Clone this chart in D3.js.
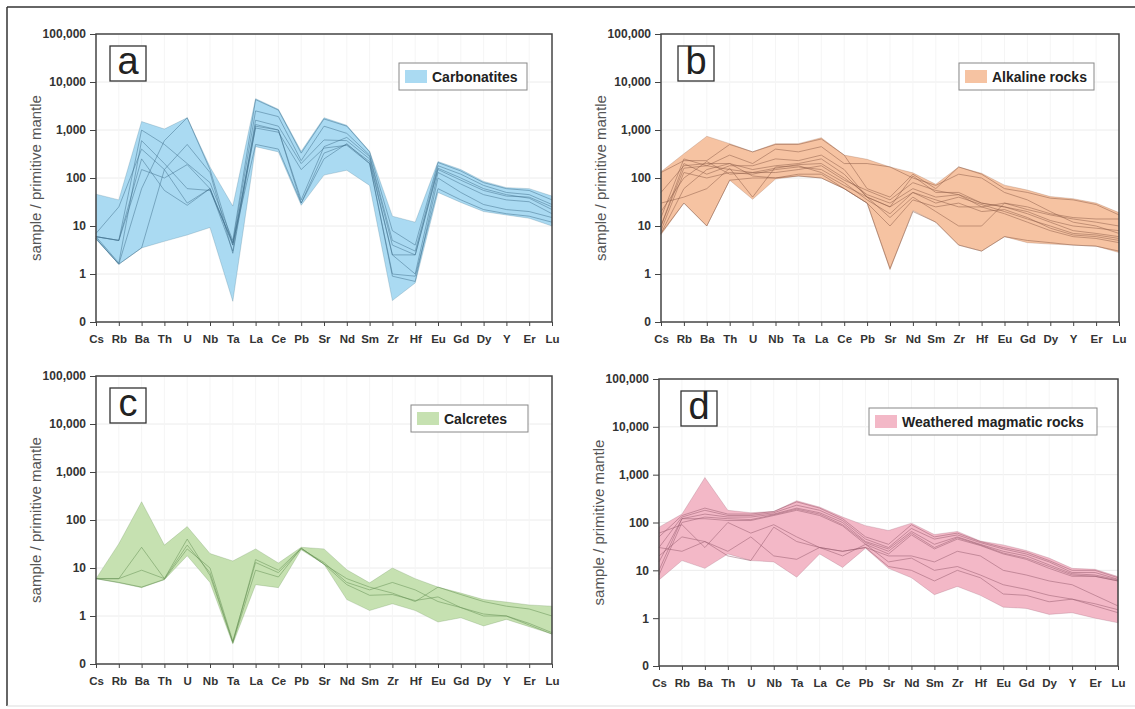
<!DOCTYPE html>
<html><head><meta charset="utf-8">
<script src="https://cdn.jsdelivr.net/npm/d3@7"></script>
<style>
body{margin:0;background:#fff;}
svg{display:block;font-family:"Liberation Sans",Arial,sans-serif;}
</style></head>
<body>
<svg id="chart" width="1135" height="709"></svg>
<script>
const elements = ["Cs","Rb","Ba","Th","U","Nb","Ta","La","Ce","Pb","Sr","Nd","Sm","Zr","Hf","Eu","Gd","Dy","Y","Er","Lu"];
const yTickValues = [0.1, 1, 10, 100, 1000, 10000, 100000];
const yTickLabels = ["0", "1", "10", "100", "1,000", "10,000", "100,000"];
const yTitle = "sample / primitive mantle";

// Panel a: Carbonatites
const carbUpper = [46, 35, 1500, 1050, 1800, 170, 26, 4500, 2700, 360, 1800, 1250, 360, 16, 12, 220, 150, 85, 63, 60, 42];
const carbLower = [5.3, 1.6, 3.5, 4.8, 6.5, 9.3, 0.27, 450, 350, 27, 115, 145, 70, 0.28, 0.65, 50, 31, 20, 17, 14.5, 10];
const carbLines = [
  [6, 5, 1000, 500, 200, 80, 5, 4300, 2600, 330, 1700, 1200, 350, 8, 4, 210, 140, 80, 60, 55, 35],
  [6, 1.7, 600, 200, 60, 55, 4.5, 2500, 1900, 230, 1200, 850, 300, 5, 3, 180, 120, 70, 50, 45, 28],
  [7, 25, 400, 150, 30, 60, 3, 1600, 1200, 200, 620, 600, 250, 2.5, 2.5, 150, 90, 55, 42, 40, 25],
  [5.5, 1.6, 60, 600, 1800, 150, 4, 1300, 1000, 35, 450, 700, 280, 4, 2.5, 160, 100, 60, 45, 38, 22],
  [5.5, 1.6, 3.5, 150, 500, 130, 2.7, 1200, 1000, 30, 330, 500, 220, 2.5, 1, 130, 75, 45, 35, 32, 18],
  [6, 5, 150, 100, 190, 60, 4.4, 500, 400, 30, 250, 520, 200, 0.9, 0.7, 100, 50, 28, 22, 20, 15],
  [6, 5, 250, 55, 27, 60, 4, 1100, 900, 150, 420, 480, 200, 1, 0.9, 60, 35, 22, 18, 16, 12]
];

// Panel b: Alkaline rocks
const alkUpper = [135, 320, 740, 520, 350, 520, 520, 690, 300, 245, 170, 128, 74, 170, 125, 71, 56, 41, 37, 30, 19];
const alkLower = [6.6, 30, 10, 90, 36, 95, 110, 100, 60, 30, 1.23, 21, 12, 4, 3, 6, 4.5, 4.2, 4, 3.8, 2.8];
const alkLines = [
  [130, 230, 230, 500, 350, 500, 500, 650, 300, 60, 40, 120, 60, 170, 120, 60, 50, 38, 35, 28, 17],
  [50, 180, 200, 200, 150, 180, 200, 250, 120, 40, 25, 110, 50, 50, 30, 25, 20, 13, 10, 9, 8],
  [10, 160, 180, 150, 130, 160, 190, 200, 100, 45, 30, 60, 40, 45, 30, 25, 18, 12, 8, 7, 6],
  [8, 130, 100, 130, 120, 150, 170, 150, 80, 35, 18, 50, 30, 40, 28, 20, 14, 10, 7, 6.5, 5.5],
  [7, 60, 150, 200, 110, 100, 120, 120, 60, 30, 10, 35, 25, 30, 20, 22, 15, 9, 6.5, 6, 5],
  [20, 100, 220, 120, 130, 130, 150, 180, 90, 55, 35, 80, 55, 45, 25, 30, 25, 18, 15, 14, 14],
  [30, 40, 60, 160, 40, 170, 180, 130, 70, 40, 15, 40, 20, 10, 10, 30, 22, 17, 14, 12, 10],
  [10, 200, 120, 180, 180, 250, 230, 300, 150, 40, 25, 50, 35, 25, 25, 18, 12, 8, 6, 5.5, 4.5],
  [7, 30, 10, 90, 100, 100, 110, 100, 60, 30, 1.3, 20, 12, 4, 3, 6, 5, 4.5, 4, 3.8, 3],
  [15, 250, 180, 300, 200, 400, 350, 450, 200, 200, 170, 100, 70, 120, 100, 50, 35, 20, 12, 10, 7]
];

// Panel c: Calcretes
const calcUpper = [6, 32, 240, 30, 73, 20, 14, 25, 12.7, 27, 25, 9.2, 4.9, 10, 6, 4, 3, 2.2, 1.95, 1.7, 1.6];
const calcLower = [6, 4.9, 3.9, 5.7, 18, 5, 0.26, 4.5, 3.9, 24, 12, 2.2, 1.3, 1.8, 1.3, 0.75, 0.92, 0.62, 0.85, 0.6, 0.42];
const calcLines = [
  [6, 6, 9, 6, 30, 8, 0.28, 15, 9, 26, 12, 6, 4, 3, 2, 4, 2.8, 2, 1.6, 1.4, 1.0],
  [6, 6, 27, 6, 40, 7, 0.28, 9, 6.5, 26, 12, 4.5, 2.7, 2.8, 2.1, 2.5, 1.5, 1.0, 1.0, 0.65, 0.42],
  [6, 5, 4, 5.8, 25, 10, 0.3, 13, 8, 25, 13, 5, 3.5, 5, 3.5, 2, 1.5, 1.1, 1.0, 0.7, 0.45]
];

// Panel d: Weathered magmatic rocks
const weathUpper = [80, 150, 870, 180, 160, 170, 285, 210, 130, 86, 68, 97, 56, 65, 41, 34, 26, 18, 11, 10.5, 7.4];
const weathLower = [6.3, 16, 11, 22, 16, 15, 7.2, 22, 11.5, 29, 11, 7, 3.1, 4.6, 3, 1.7, 1.6, 1.2, 1.3, 1.0, 0.8];
const weathLines = [
  [50, 140, 200, 150, 150, 170, 270, 200, 120, 50, 35, 90, 50, 60, 40, 30, 24, 16, 10, 10, 7],
  [30, 130, 180, 140, 140, 160, 230, 180, 110, 45, 30, 75, 45, 55, 38, 28, 22, 15, 9, 9, 6.5],
  [15, 120, 150, 130, 130, 150, 200, 160, 100, 40, 28, 65, 35, 50, 35, 25, 20, 13, 8.5, 8, 6.3],
  [10, 120, 120, 110, 110, 140, 180, 140, 85, 35, 22, 55, 28, 45, 33, 22, 17, 11, 7.5, 7.5, 6],
  [8, 100, 130, 120, 115, 145, 190, 150, 90, 38, 25, 60, 30, 48, 34, 23, 18, 12, 8, 7.5, 6],
  [20, 50, 40, 25, 50, 20, 17, 30, 25, 30, 20, 20, 15, 25, 20, 10, 8, 6, 5, 3, 1.8],
  [30, 25, 40, 20, 16, 80, 40, 30, 25, 30, 12, 10, 6, 10, 7, 3.2, 3, 2.2, 2.5, 1.8, 1.3],
  [60, 90, 30, 100, 60, 90, 50, 30, 20, 35, 15, 18, 10, 12, 8, 5, 4, 3, 2.5, 2, 1.5]
];

const panels = [
  {letter:"a", legend:"Carbonatites", upper:carbUpper, lower:carbLower, lines:carbLines,
   x0:96, x1:552, y0:34, y1:322, fill:"#aadaf2", line:"#3f6f8a", legX:399, legW:128, boxDx:14},
  {letter:"b", legend:"Alkaline rocks", upper:alkUpper, lower:alkLower, lines:alkLines,
   x0:661, x1:1119, y0:34, y1:322, fill:"#f6c3a2", line:"#8a5a45", legX:959, legW:135, boxDx:17},
  {letter:"c", legend:"Calcretes", upper:calcUpper, lower:calcLower, lines:calcLines,
   x0:96, x1:552, y0:376, y1:664, fill:"#c6e1b1", line:"#5f8c4f", legX:411, legW:117, boxDx:14},
  {letter:"d", legend:"Weathered magmatic rocks", upper:weathUpper, lower:weathLower, lines:weathLines,
   x0:659, x1:1118, y0:379, y1:666, fill:"#f3b8c7", line:"#93586b", legX:869, legW:228, boxDx:22}
];

const svg = d3.select("#chart");

// outer frame
svg.append("line").attr("x1",7).attr("y1",7).attr("x2",1135).attr("y2",7).attr("stroke","#333").attr("stroke-width",1.5);
svg.append("line").attr("x1",7).attr("y1",7).attr("x2",7).attr("y2",706).attr("stroke","#333").attr("stroke-width",1.5);
svg.append("line").attr("x1",7).attr("y1",706).attr("x2",1135).attr("y2",706).attr("stroke","#ddd").attr("stroke-width",1);

panels.forEach(p => {
  const g = svg.append("g");
  const x = d3.scalePoint().domain(elements).range([p.x0, p.x1]);
  const y = d3.scaleLog().domain([0.1, 100000]).range([p.y1, p.y0]);

  // faint grid
  g.append("g").selectAll("line.h").data(yTickValues.slice(1, -1)).join("line")
    .attr("x1", p.x0).attr("x2", p.x1).attr("y1", d => y(d)).attr("y2", d => y(d))
    .attr("stroke", "#ececec").attr("stroke-width", 1);
  g.append("g").selectAll("line.v").data(elements.slice(1, -1)).join("line")
    .attr("x1", d => x(d)).attr("x2", d => x(d)).attr("y1", p.y0).attr("y2", p.y1)
    .attr("stroke", "#f5f5f5").attr("stroke-width", 1);

  // envelope
  const idx = d3.range(elements.length);
  const area = d3.area().x(i => x(elements[i])).y0(i => y(p.lower[i])).y1(i => y(p.upper[i]));
  g.append("path").datum(idx).attr("d", area).attr("fill", p.fill)
    .attr("stroke", p.line).attr("stroke-opacity", 0.3).attr("stroke-width", 0.8);

  // sample lines
  const line = d3.line().x((d, i) => x(elements[i])).y(d => y(d));
  g.append("g").selectAll("path").data(p.lines).join("path")
    .attr("d", line).attr("fill", "none").attr("stroke", p.line)
    .attr("stroke-opacity", 0.55).attr("stroke-width", 0.9);

  // axes
  const yAxis = d3.axisLeft(y).tickValues(yTickValues)
    .tickFormat((d, i) => yTickLabels[i]).tickSize(6).tickSizeOuter(0);
  const ya = g.append("g").attr("transform", `translate(${p.x0},0)`).call(yAxis);
  ya.select(".domain").remove();
  ya.selectAll("line").attr("stroke", "#444");
  ya.selectAll("text").attr("font-size", 12).attr("font-weight", "bold").attr("fill", "#333").attr("dx", -1);

  const xAxis = d3.axisBottom(x).tickSize(4).tickSizeOuter(0);
  const xa = g.append("g").attr("transform", `translate(0,${p.y1})`).call(xAxis);
  xa.select(".domain").remove();
  xa.selectAll("line").attr("stroke", "#444");
  xa.selectAll("text").attr("font-size", 11.5).attr("font-weight", "bold").attr("fill", "#333").attr("dy", "1.25em");

  // plot frame
  g.append("rect").attr("x", p.x0).attr("y", p.y0).attr("width", p.x1 - p.x0).attr("height", p.y1 - p.y0)
    .attr("fill", "none").attr("stroke", "#444").attr("stroke-width", 1.5);

  // y title
  g.append("text").attr("transform", `translate(${p.x0 - 55},${(p.y0 + p.y1) / 2}) rotate(-90)`)
    .attr("text-anchor", "middle").attr("font-size", 15).attr("fill", "#555").text(yTitle);

  // letter box
  g.append("rect").attr("x", p.x0 + p.boxDx).attr("y", p.y0 + 12).attr("width", 36).attr("height", 35)
    .attr("fill", "#fff").attr("stroke", "#333").attr("stroke-width", 1.3);
  g.append("text").attr("x", p.x0 + p.boxDx + 18).attr("y", p.y0 + 40).attr("text-anchor", "middle")
    .attr("font-size", 38).attr("fill", "#222").text(p.letter);

  // legend
  const ly = p.y0 + 29;
  g.append("rect").attr("x", p.legX).attr("y", ly).attr("width", p.legW).attr("height", 27)
    .attr("fill", "#fff").attr("stroke", "#888").attr("stroke-width", 1);
  g.append("rect").attr("x", p.legX + 6).attr("y", ly + 7).attr("width", 22).attr("height", 13)
    .attr("fill", p.fill);
  g.append("text").attr("x", p.legX + 33).attr("y", ly + 18.5).attr("font-size", 14)
    .attr("font-weight", "bold").attr("fill", "#222").text(p.legend);
});
</script>
</body></html>
